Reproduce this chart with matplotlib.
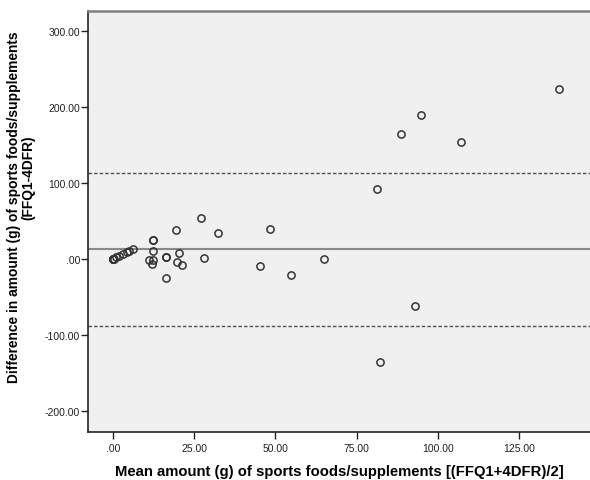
import matplotlib.pyplot as plt
from matplotlib.ticker import FuncFormatter

plt.rcParams['font.family'] = ['Liberation Sans', 'DejaVu Sans']

# Bland-Altman data: mean of the two methods vs. their difference
mean_amount = [0.0, 0.0, 0.0, 0.0, 0.3, 1.0, 2.0, 3.0, 4.3, 5.0, 6.3,
               11.2, 12.2, 11.9, 12.2, 12.4, 12.4, 16.3, 16.3, 16.2, 19.4,
               19.7, 20.4, 21.3, 27.1, 27.9, 32.4, 45.3, 48.3, 54.7, 65.0,
               81.4, 82.1, 88.5, 93.0, 94.8, 107.2, 137.3]
difference = [0.0, 0.0, 0.0, 0.0, 0.6, 2.0, 4.0, 6.0, 8.6, 10.0, 12.6,
              -0.9, -0.9, -6.6, 10.1, 25.0, 25.0, 3.1, 3.1, -25.0, 38.6,
              -4.4, 8.3, -7.5, 53.9, 0.9, 34.6, -9.2, 39.0, -20.6, -0.4,
              92.1, -135.9, 164.0, -61.8, 189.5, 153.9, 224.1]

mean_diff = 13.2
upper_loa = 113.2
lower_loa = -87.7

fig = plt.figure(figsize=(5.9, 4.81), dpi=100)
ax = fig.add_axes([0.149, 0.1, 0.851, 0.875])
ax.set_facecolor('#f0f0f0')

ax.axhline(mean_diff, color='#8a8a8a', lw=1.5, zorder=1)
ax.axhline(upper_loa, color='#505050', lw=1.0, ls=(0, (2.5, 1.5)), zorder=1)
ax.axhline(lower_loa, color='#505050', lw=1.0, ls=(0, (2.5, 1.5)), zorder=1)

ax.plot(mean_amount, difference, 'o', ms=5.2, mfc='none', mec='#333333',
        mew=1.1, zorder=2)

ax.set_xlim(-7.7, 146.8)
ax.set_ylim(-227.6, 326.3)
ax.set_xticks([0, 25, 50, 75, 100, 125])
ax.set_yticks([-200, -100, 0, 100, 200, 300])

fmt = FuncFormatter(lambda v, p: '.00' if v == 0 else '%.2f' % v)
ax.xaxis.set_major_formatter(fmt)
ax.yaxis.set_major_formatter(fmt)
ax.tick_params(direction='out', length=5, width=1, labelsize=7.5,
               labelcolor='#222222', color='#222222')
ax.tick_params(axis='x', pad=3)
ax.tick_params(axis='y', pad=0.5)

for side in ['left', 'bottom']:
    ax.spines[side].set_color('#222222')
    ax.spines[side].set_linewidth(1.2)
ax.spines['top'].set_color('#808080')
ax.spines['top'].set_linewidth(1.8)
ax.spines['right'].set_visible(False)

ax.set_xlabel('Mean amount (g) of sports foods/supplements [(FFQ1+4DFR)/2]',
              fontsize=10.7, fontweight='bold', labelpad=8)

# y label as two separately placed lines
fig.text(0.024, 0.57, 'Difference in amount (g) of sports foods/supplements',
         rotation=90, ha='center', va='center', fontsize=9.9, fontweight='bold')
fig.text(0.048, 0.63, '(FFQ1-4DFR)',
         rotation=90, ha='center', va='center', fontsize=9.9, fontweight='bold')

fig.savefig('out.png', dpi=100)
